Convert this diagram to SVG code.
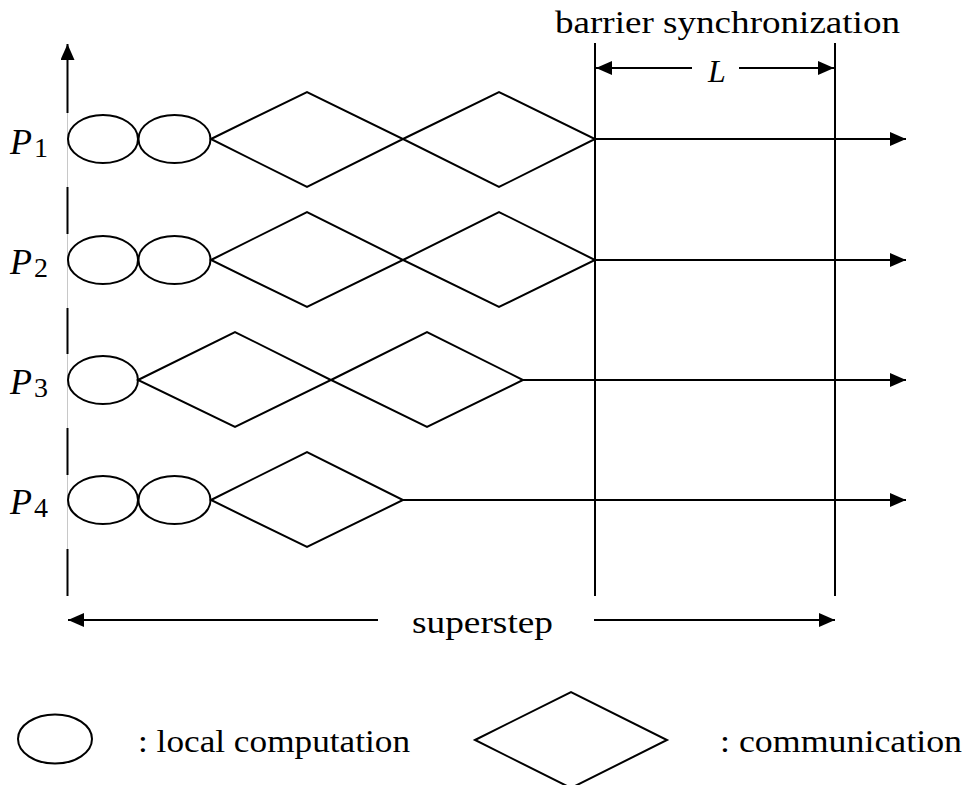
<svg xmlns="http://www.w3.org/2000/svg" width="973" height="785" viewBox="0 0 973 785">
<style>
.s{fill:none;stroke:#000;stroke-width:2}
.t{fill:#000}
.ax{stroke:#000;stroke-width:2;fill:none}
</style>
<defs>
<marker id="ah" markerUnits="userSpaceOnUse" markerWidth="16" markerHeight="14" refX="16" refY="7" orient="auto">
<path d="M0,0 L16,7 L0,14 z" fill="#000"/>
</marker>
</defs>
<rect width="973" height="785" fill="#fff"/>

<g id="connectors">
<line x1="67.5" y1="60" x2="67.5" y2="596" stroke="#c8c8c8" stroke-width="1"/>
<line class="ax" x1="67.5" y1="113" x2="67.5" y2="44" marker-end="url(#ah)"/>
<line class="ax" x1="67.5" y1="187" x2="67.5" y2="234"/>
<line class="ax" x1="67.5" y1="308" x2="67.5" y2="354"/>
<line class="ax" x1="67.5" y1="428" x2="67.5" y2="475"/>
<line class="ax" x1="67.5" y1="549" x2="67.5" y2="596"/>
<line class="ax" x1="595" y1="43" x2="595" y2="596"/>
<line class="ax" x1="835" y1="43" x2="835" y2="596"/>
<line class="ax" x1="692" y1="68" x2="596" y2="68" marker-end="url(#ah)"/>
<line class="ax" x1="739" y1="68" x2="834" y2="68" marker-end="url(#ah)"/>
<line class="ax" x1="595" y1="139" x2="906" y2="139" marker-end="url(#ah)"/>
<line class="ax" x1="595" y1="260" x2="906" y2="260" marker-end="url(#ah)"/>
<line class="ax" x1="523" y1="380" x2="906" y2="380" marker-end="url(#ah)"/>
<line class="ax" x1="403" y1="500" x2="906" y2="500" marker-end="url(#ah)"/>
<line class="ax" x1="378" y1="620" x2="68" y2="620" marker-end="url(#ah)"/>
<line class="ax" x1="594" y1="620" x2="835" y2="620" marker-end="url(#ah)"/>
</g>

<g id="p1-comp1"><ellipse class="s" cx="103" cy="139" rx="35" ry="24"/></g>
<g id="p1-comp2"><ellipse class="s" cx="174.5" cy="139" rx="36" ry="24"/></g>
<g id="p1-comm1"><polygon class="s" points="211,139 307,92 403,139 307,187"/></g>
<g id="p1-comm2"><polygon class="s" points="403,139 499,92 595,139 499,187"/></g>

<g id="p2-comp1"><ellipse class="s" cx="103" cy="260" rx="35" ry="24"/></g>
<g id="p2-comp2"><ellipse class="s" cx="174.5" cy="260" rx="36" ry="24"/></g>
<g id="p2-comm1"><polygon class="s" points="211,260 307,212 403,260 307,307"/></g>
<g id="p2-comm2"><polygon class="s" points="403,260 499,212 595,260 499,307"/></g>

<g id="p3-comp1"><ellipse class="s" cx="103" cy="380" rx="35" ry="24"/></g>
<g id="p3-comm1"><polygon class="s" points="138,380 235,332 331,380 235,427"/></g>
<g id="p3-comm2"><polygon class="s" points="331,380 427,332 523,380 427,427"/></g>

<g id="p4-comp1"><ellipse class="s" cx="103" cy="500" rx="35" ry="24"/></g>
<g id="p4-comp2"><ellipse class="s" cx="174.5" cy="500" rx="36" ry="24"/></g>
<g id="p4-comm1"><polygon class="s" points="211,500 307,452 403,500 307,547"/></g>

<g font-family="'Liberation Serif', 'DejaVu Serif', serif">
<g id="label-p1"><text class="t" x="10" y="154" font-size="36" font-style="italic">P</text><text class="t" x="34" y="157" font-size="28">1</text></g>
<g id="label-p2"><text class="t" x="10" y="274" font-size="36" font-style="italic">P</text><text class="t" x="34" y="277" font-size="28">2</text></g>
<g id="label-p3"><text class="t" x="10" y="394" font-size="36" font-style="italic">P</text><text class="t" x="34" y="397" font-size="28">3</text></g>
<g id="label-p4"><text class="t" x="10" y="514" font-size="36" font-style="italic">P</text><text class="t" x="34" y="517" font-size="28">4</text></g>

<g id="label-barrier"><text class="t" x="555" y="33" font-size="32" textLength="345" lengthAdjust="spacingAndGlyphs">barrier synchronization</text></g>
<g id="label-L"><text class="t" x="717" y="82" font-size="32" font-style="italic" text-anchor="middle">L</text></g>
<g id="label-superstep"><text class="t" x="412" y="633" font-size="32" textLength="141" lengthAdjust="spacingAndGlyphs">superstep</text></g>

<g id="legend-comp-label"><text class="t" x="138" y="752" font-size="32" textLength="272" lengthAdjust="spacingAndGlyphs">: local computation</text></g>
<g id="legend-comm-label"><text class="t" x="720" y="752" font-size="32" textLength="242" lengthAdjust="spacingAndGlyphs">: communication</text></g>
</g>

<g id="legend-comp"><ellipse class="s" cx="55" cy="739" rx="37" ry="24.5"/></g>
<g id="legend-comm"><polygon class="s" points="475,740 571,692 667,740 571,788"/></g>
</svg>
